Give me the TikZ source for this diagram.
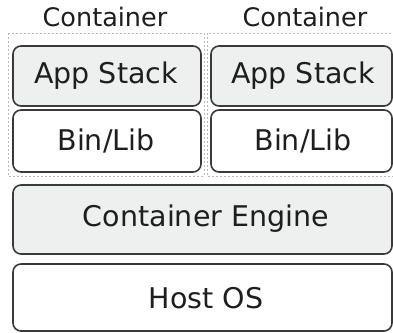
\documentclass[tikz,border=0pt]{standalone}
\usepackage{fontspec}
\setmainfont{DejaVu Sans}
\definecolor{edge}{HTML}{3A3A3A}
\definecolor{shade}{HTML}{EEF0F0}
\definecolor{ink}{HTML}{1E1E1E}
\definecolor{guide}{HTML}{B8B8B8}
\begin{document}
\begin{tikzpicture}[x=1pt,y=-1pt,
  layer/.style={draw=edge, line width=1.6pt, rounded corners=8pt},
  layertext/.style={text=ink, font=\fontsize{28.5}{30}\selectfont},
  captext/.style={text=ink, font=\fontsize{25.5}{27}\selectfont},
  group/.style={draw=guide, dash pattern=on 2pt off 2pt, line width=0.8pt}]
  \useasboundingbox (0,0) rectangle (393,332);
  % container outlines
  \draw[group] (8,33) rectangle (204,176);
  \draw[group] (207,33) rectangle (400,176);
  \node[captext] (capL) at (105,17) {Container};
  \node[captext] (capR) at (305,17) {Container};
  % left container layers
  \draw[layer, fill=shade] (13,46) rectangle (201,106);
  \node[layertext] (appL) at (106,76) {App Stack};
  \draw[layer, fill=white] (13,110) rectangle (201,172);
  \node[layertext] (binL) at (106,141) {Bin/Lib};
  % right container layers
  \draw[layer, fill=shade] (211,46) rectangle (392,106);
  \node[layertext] (appR) at (303,76) {App Stack};
  \draw[layer, fill=white] (211,110) rectangle (392,172);
  \node[layertext] (binR) at (303,141) {Bin/Lib};
  % shared layers
  \draw[layer, fill=shade] (13,185) rectangle (392,254);
  \node[layertext] (engine) at (206,219) {Container Engine};
  \draw[layer, fill=white] (13,264) rectangle (392,331);
  \node[layertext] (host) at (206,298) {Host OS};
\end{tikzpicture}
\end{document}
